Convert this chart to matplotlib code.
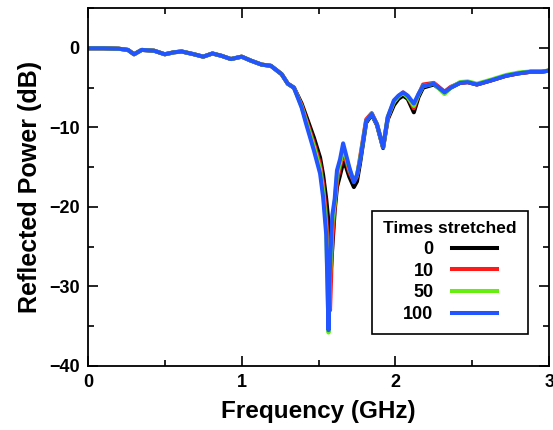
import matplotlib
matplotlib.use("Agg")
import matplotlib.pyplot as plt
from matplotlib.ticker import MultipleLocator

plt.rcParams["font.family"] = ["Liberation Sans", "DejaVu Sans"]
plt.rcParams["font.weight"] = "bold"

# frequency grid (GHz)
freq = [0.00, 0.10, 0.20, 0.26, 0.30, 0.35, 0.43, 0.50, 0.56, 0.61,
        0.69, 0.75, 0.81, 0.87, 0.93, 1.00, 1.06, 1.13, 1.19, 1.26,
        1.30, 1.34, 1.39, 1.42, 1.47, 1.51, 1.53, 1.55, 1.565, 1.575,
        1.59, 1.605, 1.62, 1.64, 1.66, 1.68, 1.70, 1.73, 1.75, 1.77,
        1.81, 1.846, 1.88, 1.92, 1.95, 1.99, 2.02, 2.05, 2.08, 2.12,
        2.15, 2.18, 2.25, 2.32, 2.36, 2.42, 2.47, 2.53, 2.62, 2.72,
        2.80, 2.88, 2.95, 3.00]

# reflected power (dB) for each number of stretches
db_0 = [-0.05, -0.05, -0.10, -0.25, -0.80, -0.25, -0.35, -0.80, -0.55, -0.45,
        -0.80, -1.10, -0.70, -1.00, -1.40, -1.10, -1.60, -2.10, -2.25, -3.30,
        -4.50, -5.00, -7.00, -8.60, -11.3, -13.8, -16.0, -19.0, -22.0, -29.5,
        -25.0, -20.5, -17.5, -16.0, -14.4, -15.0, -16.2, -17.5, -16.8, -14.5,
        -9.40, -8.40, -9.70, -12.6, -9.00, -7.20, -6.40, -6.00, -6.40, -8.10,
        -6.20, -5.00, -4.60, -5.60, -5.00, -4.40, -4.30, -4.60, -4.10, -3.50,
        -3.20, -3.00, -3.00, -2.85]
db_10 = [-0.05, -0.05, -0.10, -0.25, -0.80, -0.25, -0.35, -0.80, -0.55, -0.45,
         -0.80, -1.10, -0.70, -1.00, -1.40, -1.10, -1.60, -2.10, -2.25, -3.30,
         -4.50, -5.00, -7.20, -9.00, -12.0, -14.6, -17.2, -21.0, -28.0, -33.0,
         -24.0, -20.0, -16.8, -15.0, -13.2, -14.2, -15.6, -16.8, -16.2, -13.8,
         -9.00, -8.20, -9.60, -12.5, -8.80, -6.80, -6.10, -5.60, -6.10, -7.60,
         -5.90, -4.60, -4.40, -5.50, -4.90, -4.40, -4.30, -4.60, -4.10, -3.50,
         -3.20, -3.00, -3.00, -2.85]
db_50 = [-0.05, -0.05, -0.10, -0.25, -0.80, -0.25, -0.35, -0.80, -0.55, -0.45,
         -0.80, -1.10, -0.70, -1.00, -1.40, -1.10, -1.60, -2.10, -2.25, -3.30,
         -4.50, -5.00, -7.40, -9.30, -12.4, -15.2, -18.0, -22.5, -35.8, -28.5,
         -22.0, -19.5, -16.0, -14.5, -12.6, -13.8, -15.2, -16.7, -16.0, -14.0,
         -9.20, -8.30, -9.60, -12.5, -8.70, -6.80, -6.10, -5.70, -6.20, -7.30,
         -5.90, -4.80, -4.50, -5.80, -5.00, -4.30, -4.20, -4.50, -4.00, -3.40,
         -3.10, -2.95, -2.95, -2.85]
db_100 = [-0.05, -0.05, -0.10, -0.25, -0.80, -0.25, -0.35, -0.80, -0.55, -0.45,
          -0.80, -1.10, -0.70, -1.00, -1.40, -1.10, -1.60, -2.10, -2.25, -3.30,
          -4.50, -5.00, -7.50, -9.60, -12.9, -15.8, -18.8, -23.5, -35.5, -27.0,
          -21.0, -19.0, -15.4, -14.0, -12.0, -13.5, -15.0, -16.9, -16.0, -14.2,
          -9.20, -8.30, -9.60, -12.5, -8.70, -6.60, -6.00, -5.60, -6.00, -7.00,
          -5.80, -4.80, -4.50, -5.60, -5.00, -4.40, -4.30, -4.60, -4.10, -3.50,
          -3.20, -3.00, -3.00, -2.85]

labels = ["0", "10", "50", "100"]
colors = ["#000000", "#ff1a1a", "#66ee11", "#2255ff"]
series = [db_0, db_10, db_50, db_100]

fig = plt.figure(figsize=(5.53, 4.30), dpi=100)
ax = fig.add_axes([0.159, 0.149, 0.834, 0.832])

for vals, lab, col in zip(series, labels, colors):
    ax.plot(freq, vals, color=col, lw=2.9, label=lab, solid_joinstyle="round")

ax.set_xlim(0, 3)
ax.set_ylim(-40, 5)
ax.xaxis.set_major_locator(MultipleLocator(1))
ax.xaxis.set_minor_locator(MultipleLocator(0.5))
ax.yaxis.set_major_locator(MultipleLocator(10))
ax.yaxis.set_minor_locator(MultipleLocator(5))
ax.tick_params(which="both", direction="in", top=True, right=True,
               width=1.2, labelsize=13, pad=6)
ax.tick_params(which="major", length=7)
ax.tick_params(which="minor", length=4)
for lab in ax.get_xticklabels() + ax.get_yticklabels():
    lab.set_fontweight("bold")
for sp in ax.spines.values():
    sp.set_linewidth(1.3)

ax.set_xlabel("Frequency (GHz)", fontsize=17.5, fontweight="bold", labelpad=6)
ax.set_ylabel("Reflected Power (dB)", fontsize=18, fontweight="bold", labelpad=5)

leg = ax.legend(title="Times stretched", loc="lower right",
                bbox_to_anchor=(0.973, 0.064), markerfirst=False,
                fancybox=False, framealpha=1, edgecolor="black",
                prop={"size": 13, "weight": "bold"},
                title_fontproperties={"size": 12.5, "weight": "bold"},
                handlelength=2.5, handletextpad=1.0, labelspacing=0.26,
                borderpad=0.6)
leg.get_frame().set_linewidth(1.2)

fig.savefig("out.png", dpi=100)
